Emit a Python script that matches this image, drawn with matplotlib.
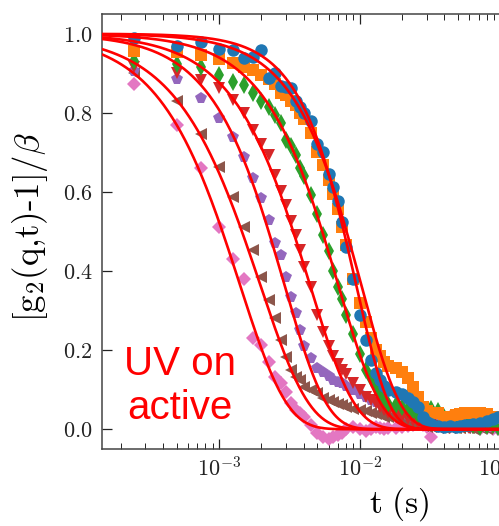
import numpy as np
import matplotlib
matplotlib.use("Agg")
import matplotlib.pyplot as plt
from matplotlib.ticker import MultipleLocator, NullLocator, LogLocator, NullFormatter

plt.rcParams.update({
    "font.family": "serif",
    "font.serif": ["cmr10"],
    "mathtext.fontset": "cm",
    "axes.formatter.use_mathtext": True,
})

# correlator frame time (s) and multi-tau lag channels
FRAME_DT = 2.5e-4
LAGS = [1, 2, 3, 4, 5, 6, 7, 8, 9, 10, 11, 12, 13, 14, 15, 16,
        18, 20, 22, 24, 26, 28, 30, 32,
        36, 40, 44, 48, 52, 56, 60, 64,
        72, 80, 88, 96, 104, 112, 120, 128,
        144, 160, 176, 192, 208, 224, 240, 256,
        288, 320, 352, 384]

# normalised intensity autocorrelation, one array per measurement
g_blue = [0.990, 0.970, 0.978, 0.962, 0.960, 0.938, 0.942, 0.960, 0.888, 0.900, 0.867, 0.865, 0.862, 0.830, 0.815, 0.800,
          0.780, 0.720, 0.700, 0.646, 0.612, 0.578, 0.524, 0.460,
          0.380, 0.290, 0.225, 0.175, 0.141, 0.125, 0.110, 0.100,
          0.095, 0.090, 0.080, 0.070, 0.055, 0.030, 0.018, 0.012,
          0.007, 0.006, 0.008, 0.006, 0.007, 0.010, 0.011, 0.013,
          0.016, 0.022, 0.027, 0.030]
g_orange = [0.957, 0.955, 0.946, 0.936, 0.926, 0.917, 0.908, 0.896, 0.885, 0.873, 0.850, 0.846, 0.830, 0.820, 0.800, 0.785,
            0.750, 0.700, 0.667, 0.630, 0.595, 0.557, 0.511, 0.465,
            0.380, 0.320, 0.270, 0.230, 0.200, 0.185, 0.170, 0.160,
            0.155, 0.145, 0.130, 0.107, 0.082, 0.057, 0.045, 0.042,
            0.040, 0.030, 0.030, 0.036, 0.038, 0.040, 0.040, 0.040,
            0.040, 0.038, 0.030, 0.028]
g_green = [0.931, 0.923, 0.915, 0.896, 0.877, 0.871, 0.850, 0.829, 0.816, 0.795, 0.774, 0.732, 0.715, 0.694, 0.661, 0.640,
           0.593, 0.543, 0.490, 0.450, 0.400, 0.360, 0.330, 0.290,
           0.240, 0.190, 0.150, 0.130, 0.110, 0.090, 0.075, 0.065,
           0.060, 0.057, 0.050, 0.045, 0.035, 0.030, 0.040, 0.050,
           0.045, 0.030, 0.020, 0.015, 0.010, 0.012, 0.015, 0.010,
           0.005, 0.008, 0.010, 0.005]
g_red = [0.915, 0.900, 0.883, 0.862, 0.833, 0.800, 0.757, 0.720, 0.694, 0.644, 0.602, 0.568, 0.526, 0.490, 0.452, 0.410,
         0.360, 0.290, 0.245, 0.210, 0.185, 0.165, 0.150, 0.140,
         0.116, 0.099, 0.082, 0.075, 0.066, 0.055, 0.049, 0.040,
         0.036, 0.030, 0.025, 0.020, 0.015, 0.010, 0.012, 0.010,
         0.008, 0.005, 0.004, 0.003, 0.002, 0.003, 0.004, 0.003,
         0.002, 0.003, 0.002, 0.003]
g_purple = [0.906, 0.885, 0.838, 0.788, 0.740, 0.688, 0.636, 0.585, 0.530, 0.470, 0.440, 0.385, 0.334, 0.293, 0.250, 0.210,
            0.180, 0.155, 0.145, 0.135, 0.124, 0.120, 0.116, 0.110,
            0.099, 0.090, 0.082, 0.075, 0.070, 0.066, 0.060, 0.057,
            0.050, 0.045, 0.035, 0.030, 0.025, 0.020, 0.015, 0.012,
            0.010, 0.012, 0.015, 0.010, 0.008, 0.010, 0.012, 0.010,
            0.008, 0.006, 0.005, 0.004]
g_brown = [0.902, 0.830, 0.746, 0.662, 0.587, 0.511, 0.452, 0.385, 0.326, 0.280, 0.225, 0.183, 0.150, 0.133, 0.125, 0.107,
           0.098, 0.091, 0.080, 0.074, 0.068, 0.064, 0.060, 0.057,
           0.052, 0.049, 0.045, 0.040, 0.038, 0.035, 0.032, 0.030,
           0.025, 0.020, 0.015, 0.012, 0.010, 0.008, 0.006, 0.005,
           0.004, 0.003, 0.002, 0.003, 0.002, 0.003, 0.002, 0.001,
           0.002, 0.001, 0.002, 0.001]
g_pink = [0.873, 0.770, 0.660, 0.511, 0.431, 0.381, 0.230, 0.213, 0.170, 0.133, 0.116, 0.095, 0.066, 0.049, 0.040, 0.030,
          0.010, -0.010, -0.020, -0.025, -0.020, -0.015, -0.010, 0.000,
          0.005, 0.000, -0.005, 0.000, 0.005, 0.003, 0.000, 0.002,
          0.004, 0.006, 0.008, 0.010, 0.012, 0.010, 0.006, -0.020,
          0.008, 0.020, 0.030, 0.036, 0.030, 0.020, 0.010, 0.005,
          0.000, 0.002, 0.000, 0.001]

# stretched-exponential fit parameters: relaxation time (s) and exponent
FIT_TAU = [9.4e-3, 1.02e-2, 7.0e-3, 4.4e-3, 2.9e-3, 1.95e-3, 1.4e-3]
FIT_EXP = [1.85, 1.56, 1.43, 1.37, 1.45, 1.25, 1.30]

series = [g_blue, g_orange, g_green, g_red, g_purple, g_brown, g_pink]
colors = ["#1f77b4", "#ff7f0e", "#2ca02c", "#d62728", "#9467bd", "#8c564b", "#e377c2"]
markers = ["o", "s", "d", "v", "p", "<", "D"]
msizes = [9.0, 8.0, 9.0, 9.0, 8.5, 9.0, 7.5]

t = FRAME_DT * np.array(LAGS, dtype=float)

fig = plt.figure(figsize=(4.99, 5.26), dpi=100)
ax = fig.add_axes([0.2044, 0.1464, 1.19, 0.827])

# draw the slowest decay last so it sits on top
for i in reversed(range(len(series))):
    ax.plot(t, series[i], ls="none", marker=markers[i], ms=msizes[i],
            color=colors[i], mew=0, zorder=2 + (len(series) - i) * 0.1)

tt = np.logspace(-4, 0.5, 600)
for tau, p in zip(FIT_TAU, FIT_EXP):
    ax.plot(tt, np.exp(-(tt / tau) ** p), color="#ff0000", lw=1.9, zorder=5)

ax.set_xscale("log")
ax.set_xlim(1.472e-4, 2.45)
ax.set_ylim(-0.05, 1.05)
ax.yaxis.set_major_locator(MultipleLocator(0.2))
ax.yaxis.set_minor_locator(NullLocator())
ax.xaxis.set_minor_locator(LogLocator(base=10, subs=np.arange(2, 10)))
ax.xaxis.set_minor_formatter(NullFormatter())

ax.tick_params(which="both", direction="in", top=True, right=True, colors="#222222")
ax.tick_params(which="major", length=7.5, width=0.9, labelsize=16)
ax.tick_params(which="minor", length=4.5, width=0.7)
ax.tick_params(axis="x", pad=5)
ax.tick_params(axis="y", pad=7)
for sp in ax.spines.values():
    sp.set_color("#444444")
    sp.set_linewidth(1.1)

ax.set_ylabel("[g$_2$(q,t)-1]/$\\beta$", fontsize=25)
ax.yaxis.set_label_coords(-0.0875, 0.509)
ax.set_xlabel("$\\mathrm{t\\ (s)}$", fontsize=24)
ax.xaxis.set_label_coords(0.5, -0.082)

fig.text(180 / 499, 1 - 386 / 526, "UV on\nactive", color="#ff0000",
         fontsize=29, family="Liberation Sans", ha="center", va="center",
         linespacing=1.2)

fig.savefig("out.png", dpi=100)
